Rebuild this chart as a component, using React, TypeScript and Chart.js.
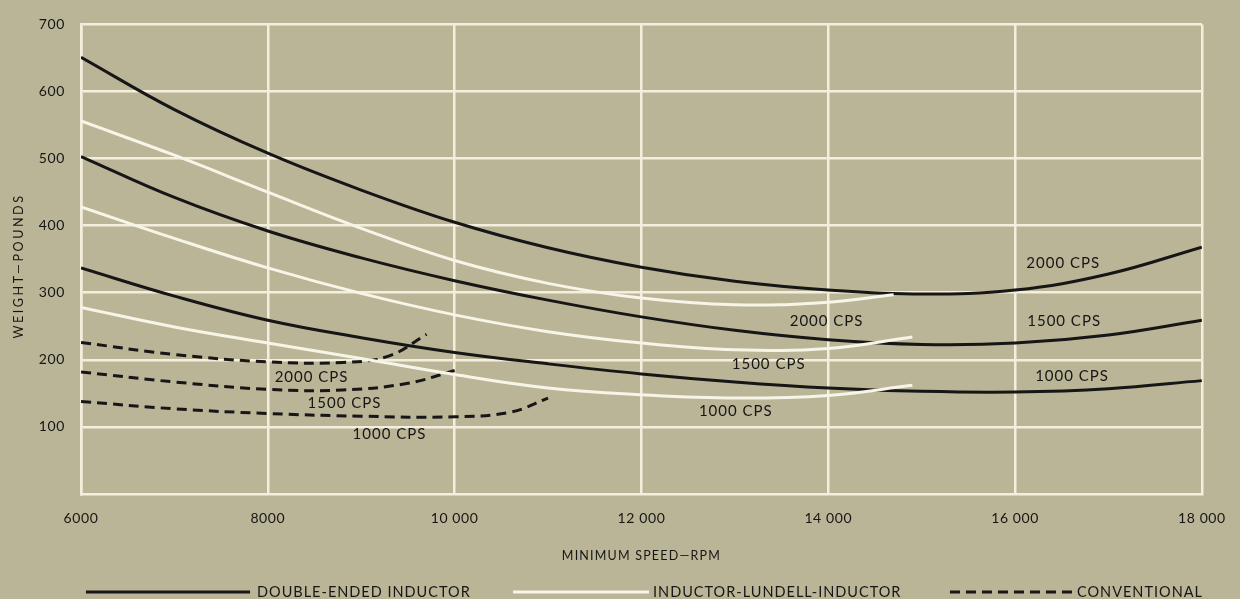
import React, { useEffect, useRef } from "react";
import { Chart, registerables } from "chart.js";

Chart.register(...registerables);

// ---------- data ----------
const xTickValues = [6000, 8000, 10000, 12000, 14000, 16000, 18000];
const xTickLabels = ["6000", "8000", "10 000", "12 000", "14 000", "16 000", "18 000"];
const yTickValues = [100, 200, 300, 400, 500, 600, 700];

// Double-ended inductor (black solid)
const deRpm = [6000, 7000, 8000, 9000, 10000, 11000, 12000, 13000, 14000, 15000, 16000, 17000, 18000];
const de2000 = [651, 573, 508, 453, 405, 367, 338, 317, 304, 298, 304, 328, 368];
const de1500 = [503, 442, 392, 352, 318, 289, 264, 244, 230, 223, 225, 237, 259];
const de1000 = [337, 295, 259, 233, 211, 194, 179, 167, 158, 153, 152, 157, 169];

// Inductor-Lundell-Inductor (white solid)
const lil2000Rpm = [6000, 7000, 8000, 9000, 10000, 11000, 12000, 13000, 14000, 14700];
const lil2000 = [556, 505, 450, 396, 348, 314, 292, 282, 286, 297];
const lil1500Rpm = [6000, 7000, 8000, 9000, 10000, 11000, 12000, 13000, 14000, 14900];
const lil1500 = [428, 381, 337, 299, 267, 242, 225, 215, 217, 234];
const lil1000Rpm = [6000, 7000, 8000, 9000, 10000, 11000, 12000, 13000, 14000, 14900];
const lil1000 = [278, 249, 225, 202, 178, 158, 148, 143, 147, 162];

// Conventional (black dashed)
const conv2000Rpm = [6000, 7000, 8000, 8800, 9300, 9700];
const conv2000 = [226, 208, 197, 196, 206, 238];
const conv1500Rpm = [6000, 7000, 8000, 8800, 9500, 10000];
const conv1500 = [182, 167, 156, 155, 165, 184];
const conv1000Rpm = [6000, 7000, 8000, 9000, 10000, 10600, 11000];
const conv1000 = [138, 127, 120, 116, 115, 122, 143];

// Curve labels (data coordinates)
const curveLabelText = [
  "2000 CPS", "1500 CPS", "1000 CPS",
  "2000 CPS", "1500 CPS", "1000 CPS",
  "2000 CPS", "1500 CPS", "1000 CPS",
];
const curveLabelRpm = [16515, 16525, 16610, 13982, 13362, 13010, 8468, 8821, 9302];
const curveLabelWeight = [344, 257, 175, 258, 194, 124, 174, 135, 89];

const legendNames = ["DOUBLE-ENDED INDUCTOR", "INDUCTOR-LUNDELL-INDUCTOR", "CONVENTIONAL"];

const xTitle = "MINIMUM SPEED\u2014RPM";
const yTitle = "WEIGHT\u2014POUNDS";

// ---------- styles ----------
const FONT = "Lato, 'Open Sans', 'DejaVu Sans', sans-serif";
const BG = "#bab597";
const GRID = "#f3efdc";
const INK = "#161616";
const WHITE = "#f7f4e8";

const toPts = (xs: number[], ys: number[]) => xs.map((x, i) => ({ x, y: ys[i] }));

export default function App() {
  const ref = useRef<HTMLCanvasElement | null>(null);

  useEffect(() => {
    const canvas = ref.current;
    if (!canvas) return;

    const solidBlack = { borderColor: INK, borderWidth: 3, borderDash: [] as number[] };
    const solidWhite = { borderColor: WHITE, borderWidth: 3, borderDash: [] as number[] };
    const dashBlack = { borderColor: INK, borderWidth: 3, borderDash: [10, 6] };

    const common = {
      pointRadius: 0,
      fill: false,
      tension: 0.4,
      borderCapStyle: "butt" as const,
    };

    const datasets: any[] = [
      { label: "LIL 2000", data: toPts(lil2000Rpm, lil2000), ...common, ...solidWhite },
      { label: "LIL 1500", data: toPts(lil1500Rpm, lil1500), ...common, ...solidWhite },
      { label: "LIL 1000", data: toPts(lil1000Rpm, lil1000), ...common, ...solidWhite },
      { label: "DE 2000", data: toPts(deRpm, de2000), ...common, ...solidBlack },
      { label: "DE 1500", data: toPts(deRpm, de1500), ...common, ...solidBlack },
      { label: "DE 1000", data: toPts(deRpm, de1000), ...common, ...solidBlack },
      { label: "CONV 2000", data: toPts(conv2000Rpm, conv2000), ...common, ...dashBlack },
      { label: "CONV 1500", data: toPts(conv1500Rpm, conv1500), ...common, ...dashBlack },
      { label: "CONV 1000", data: toPts(conv1000Rpm, conv1000), ...common, ...dashBlack },
    ];

    const bgPlugin = {
      id: "bg",
      beforeDraw(chart: any) {
        const { ctx, width, height } = chart;
        ctx.save();
        ctx.fillStyle = BG;
        ctx.fillRect(0, 0, width, height);
        ctx.restore();
        ctx.letterSpacing = "0.6px";
      },
    };

    const textPlugin = {
      id: "texts",
      afterDatasetsDraw(chart: any) {
        const { ctx, scales } = chart;
        ctx.save();
        ctx.letterSpacing = "1px";
        ctx.fillStyle = INK;
        ctx.font = `15px ${FONT}`;
        ctx.textAlign = "center";
        ctx.textBaseline = "middle";
        curveLabelText.forEach((t, i) => {
          const px = scales.x.getPixelForValue(curveLabelRpm[i]);
          const py = scales.y.getPixelForValue(curveLabelWeight[i]);
          ctx.fillText(t, px, py);
        });
        ctx.restore();
      },
      afterDraw(chart: any) {
        const { ctx, chartArea } = chart;
        ctx.save();
        // axis titles
        ctx.fillStyle = INK;
        ctx.textBaseline = "middle";
        ctx.textAlign = "center";
        ctx.letterSpacing = "1.2px";
        ctx.font = `12.5px ${FONT}`;
        ctx.fillText(xTitle, (chartArea.left + chartArea.right) / 2, 556);
        ctx.save();
        ctx.translate(19, 266);
        ctx.rotate(-Math.PI / 2);
        ctx.letterSpacing = "2.6px";
        ctx.font = `12.5px ${FONT}`;
        ctx.fillText(yTitle, 0, 0);
        ctx.restore();

        // legend
        const y = 592;
        const items = [
          { x0: 86, x1: 250, tx: 257, style: solidBlack },
          { x0: 513, x1: 649, tx: 653, style: solidWhite },
          { x0: 950, x1: 1073, tx: 1077, style: dashBlack },
        ];
        items.forEach((it, i) => {
          ctx.beginPath();
          ctx.strokeStyle = it.style.borderColor;
          ctx.lineWidth = 3;
          ctx.setLineDash(it.style.borderDash);
          ctx.moveTo(it.x0, y);
          ctx.lineTo(it.x1, y);
          ctx.stroke();
          ctx.setLineDash([]);
          ctx.fillStyle = INK;
          ctx.letterSpacing = "1px";
          ctx.font = `14.5px ${FONT}`;
          ctx.textAlign = "left";
          ctx.textBaseline = "middle";
          ctx.fillText(legendNames[i], it.tx, y);
        });
        ctx.restore();
        ctx.letterSpacing = "0px";
      },
    };

    const chart = new Chart(canvas, {
      type: "line",
      data: { datasets },
      options: {
        responsive: false,
        animation: false,
        events: [],
        layout: { padding: { top: 17, right: 36, left: 0, bottom: 0 } },
        plugins: {
          legend: { display: false },
          tooltip: { enabled: false },
        },
        scales: {
          x: {
            type: "linear",
            min: 6000,
            max: 18000,
            afterBuildTicks: (s: any) => {
              s.ticks = xTickValues.map((v) => ({ value: v }));
            },
            afterFit: (s: any) => {
              s.height = 105;
            },
            ticks: {
              autoSkip: false,
              maxRotation: 0,
              padding: 16,
              color: INK,
              font: { family: FONT, size: 14 },
              callback: (v: any) => {
                const i = xTickValues.indexOf(Number(v));
                return i >= 0 ? xTickLabels[i] : "";
              },
            },
            grid: { color: GRID, lineWidth: 2.5, drawTicks: false },
            border: { color: GRID, width: 2.5 },
            title: { display: false, text: xTitle },
          },
          y: {
            type: "linear",
            min: 0,
            max: 700,
            afterBuildTicks: (s: any) => {
              s.ticks = yTickValues.map((v) => ({ value: v }));
            },
            afterFit: (s: any) => {
              s.width = 81;
            },
            ticks: {
              padding: 16,
              color: INK,
              font: { family: FONT, size: 14 },
            },
            grid: { color: GRID, lineWidth: 2.5, drawTicks: false },
            border: { color: GRID, width: 2.5 },
            title: { display: false, text: yTitle },
          },
        },
      },
      plugins: [bgPlugin, textPlugin],
    });

    return () => chart.destroy();
  }, []);

  return (
    <div style={{ position: "absolute", left: 0, top: 0, width: 1240, height: 599 }}>
      <canvas ref={ref} width={1240} height={599} style={{ display: "block" }} />
    </div>
  );
}
